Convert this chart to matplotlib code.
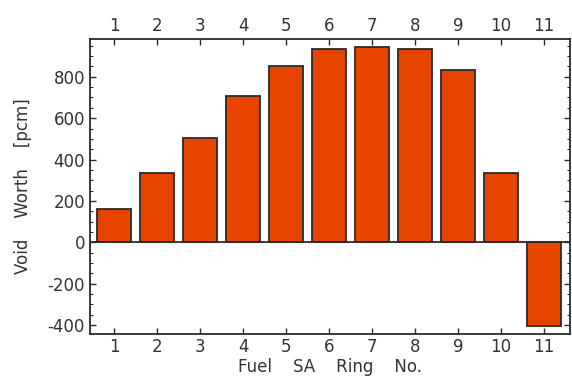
import matplotlib
matplotlib.use("Agg")
import matplotlib.pyplot as plt
from matplotlib.ticker import MultipleLocator

rings = [1, 2, 3, 4, 5, 6, 7, 8, 9, 10, 11]
void_worth = [161, 336, 505, 707, 853, 932, 945, 932, 832, 336, -404]
y_ticks = [-400, -200, 0, 200, 400, 600, 800]

plt.rcParams['font.family'] = ['DejaVu Sans']
plt.rcParams['axes.unicode_minus'] = False
txt = '#333333'

fig = plt.figure(figsize=(5.72, 3.76), dpi=100)
ax = fig.add_axes([0.157, 0.1117, 0.8395, 0.7843])

ax.bar(rings, void_worth, width=0.78, color='#E64500', edgecolor='#2a2a2a', linewidth=1.3, zorder=2)
ax.axhline(0, color='#2a2a2a', linewidth=1.3, zorder=3)

ax.set_xlim(0.435, 11.6)
ax.set_ylim(-443, 982)
ax.set_xticks(rings)
ax.set_yticks(y_ticks)
ax.yaxis.set_minor_locator(MultipleLocator(50))

ax.tick_params(axis='both', which='both', direction='in', colors='#2a2a2a', labelcolor=txt, labelsize=12)
ax.tick_params(axis='x', which='major', top=True, labeltop=True, length=4, width=1)
ax.tick_params(axis='y', which='major', right=True, length=4, width=1)
ax.tick_params(axis='y', which='minor', right=True, length=2.5, width=0.8)
ax.tick_params(axis='x', which='major', pad=3)

for s in ax.spines.values():
    s.set_color('#2a2a2a')
    s.set_linewidth(1.3)

ax.set_xlabel('Fuel    SA    Ring    No.', color=txt, fontsize=12, labelpad=1)
ax.set_ylabel('Void    Worth    [pcm]', color=txt, fontsize=12, labelpad=11)

fig.savefig('out.png', dpi=100)
